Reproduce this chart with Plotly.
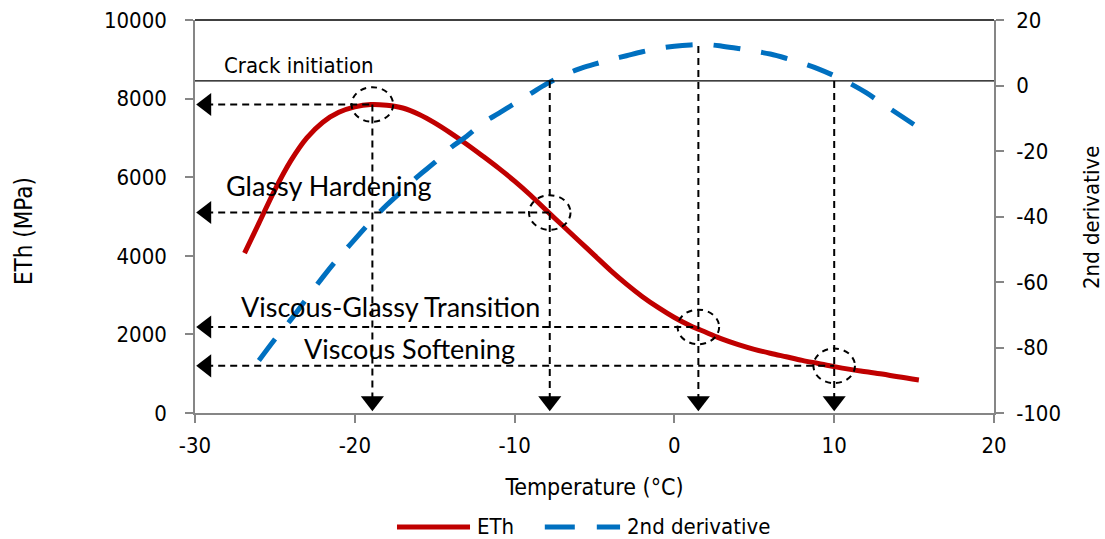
import plotly.graph_objects as go

# ---- data ----
temp_eth = [-26.9, -26, -25, -24, -23, -22, -21, -20, -19, -18, -17, -16, -15, -14, -13, -12, -11, -10,
            -9, -8, -7, -6, -5, -4, -3, -2, -1, 0, 1, 2, 3, 4, 5, 6, 7, 8, 9, 10, 11, 12, 13, 14, 15.3]
eth = [4070, 4830, 5680, 6420, 7000, 7400, 7650, 7790, 7850, 7830, 7760, 7600, 7380, 7120, 6840, 6540,
       6230, 5900, 5540, 5150, 4770, 4390, 4010, 3630, 3280, 2960, 2680, 2430, 2220, 2050, 1880, 1740,
       1620, 1520, 1430, 1340, 1260, 1180, 1110, 1050, 990, 920, 840]

temp_d2 = [-26, -25, -24, -23, -22, -21, -20, -19, -18, -17, -16, -15, -14, -13, -12, -11, -10, -9, -8,
           -7, -6, -5, -4, -3, -2, -1, 0, 1, 2, 3, 4, 5, 6, 7, 8, 9, 10, 11, 12, 13, 14, 15.2]
d2 = [-84, -77.5, -71.5, -65, -58.5, -52.5, -47, -41.5, -36.5, -32, -27.5, -23.5, -19, -15.5, -11.5, -8.5,
      -5.5, -2.5, 0.5, 3, 5, 6.5, 7.9, 9.1, 10.3, 11.3, 12, 12.4, 12.5, 12.0, 11.3, 10.5, 9.6, 8.3, 6.8,
      5.1, 3.0, 0.6, -2.2, -5.5, -8.7, -12.6]

key_temp = [-18.9, -7.8, 1.5, 10.0]
key_eth = [7850, 5100, 2190, 1200]
drop_top = [7850, 8450, 9340, 8450]
crack_level = 8450
arrow_left_x = -29.3
arrow_bottom_y = 300

label_text = ["Glassy Hardening", "Viscous-Glassy Transition", "Viscous Softening"]
label_x = [-21.6, -17.75, -16.6]
label_y = [5780, 2720, 1630]

x_ticks = [-30, -20, -10, 0, 10, 20]
x_tick_text = ["-30", "-20", "-10", "0", "10", "20"]
y_ticks = [0, 2000, 4000, 6000, 8000, 10000]
y_tick_text = ["0", "2000", "4000", "6000", "8000", "10000"]
y2_ticks = [-100, -80, -60, -40, -20, 0, 20]
y2_tick_text = ["-100", "-80", "-60", "-40", "-20", "0", "20"]

series_names = ["ETh", "2nd derivative"]
series_colors = ["#C00000", "#0070C0"]
series_dash = ["solid", "27px,21px"]

NARROW = "DejaVu Sans Condensed, Roboto, sans-serif"
CAL = "Lato, Carlito, Calibri, sans-serif"
AXC = "#868686"
FS = 22

fig = go.Figure()

fig.add_trace(go.Scatter(x=temp_eth, y=eth, name=series_names[0], mode="lines",
                         line=dict(color=series_colors[0], width=5, shape="spline")))
fig.add_trace(go.Scatter(x=temp_d2, y=d2, name=series_names[1], mode="lines", yaxis="y2",
                         line=dict(color=series_colors[1], width=5, shape="spline", dash=series_dash[1])))

shapes = []
dash = "7px,5px"
for t, e, top in zip(key_temp, key_eth, drop_top):
    shapes.append(dict(type="line", xref="x", yref="y", x0=arrow_left_x, x1=t, y0=e, y1=e,
                       line=dict(color="black", width=2, dash=dash)))
    shapes.append(dict(type="line", xref="x", yref="y", x0=t, x1=t, y0=top, y1=arrow_bottom_y,
                       line=dict(color="black", width=2, dash=dash)))
    shapes.append(dict(type="circle", xref="x", yref="y", x0=t - 1.3, x1=t + 1.3, y0=e - 440, y1=e + 440,
                       line=dict(color="black", width=2, dash="6px,5px")))

# crack initiation line and top frame line
shapes.append(dict(type="line", xref="paper", yref="y", x0=0, x1=1, y0=crack_level, y1=crack_level,
                   line=dict(color="black", width=1.4)))
shapes.append(dict(type="line", xref="paper", yref="paper", x0=0, x1=1, y0=1, y1=1,
                   line=dict(color="black", width=1.4)))

# legend (drawn manually to get the long Excel-style samples)
leg_y = -0.29
shapes.append(dict(type="line", xref="paper", yref="paper", x0=0.2528, x1=0.3442, y0=leg_y, y1=leg_y,
                   line=dict(color=series_colors[0], width=5)))
shapes.append(dict(type="line", xref="paper", yref="paper", x0=0.4378, x1=0.5320, y0=leg_y, y1=leg_y,
                   line=dict(color=series_colors[1], width=5, dash="30px,22px")))

# arrow heads
fig.add_trace(go.Scatter(x=[arrow_left_x] * 4, y=key_eth, mode="markers", showlegend=False, hoverinfo="skip",
                         marker=dict(symbol="triangle-left", size=20, color="black")))
fig.add_trace(go.Scatter(x=key_temp, y=[arrow_bottom_y] * 4, mode="markers", showlegend=False, hoverinfo="skip",
                         marker=dict(symbol="triangle-down", size=20, color="black")))

annotations = [dict(x=-23.5, y=8855, xref="x", yref="y", text="Crack initiation", showarrow=False,
                    font=dict(family=NARROW, size=FS, color="black"))]
for txt, lx, ly in zip(label_text, label_x, label_y):
    annotations.append(dict(x=lx, y=ly, xref="x", yref="y", text=txt, showarrow=False,
                            font=dict(family=CAL, size=27, color="black")))
# axis titles
annotations.append(dict(x=-0.214, y=0.463, xref="paper", yref="paper", text="ETh (MPa)", showarrow=False,
                        xanchor="center", yanchor="middle", textangle=-90,
                        font=dict(family=NARROW, size=24, color="black")))
annotations.append(dict(x=1.1214, y=0.4987, xref="paper", yref="paper", text="2nd derivative", showarrow=False,
                        xanchor="center", yanchor="middle", textangle=-90,
                        font=dict(family=NARROW, size=22, color="black")))
# legend texts
annotations.append(dict(x=0.3504, y=leg_y, xref="paper", yref="paper", text=series_names[0], showarrow=False,
                        xanchor="left", yanchor="middle", font=dict(family=NARROW, size=22, color="black")))
annotations.append(dict(x=0.5382, y=leg_y, xref="paper", yref="paper", text=series_names[1], showarrow=False,
                        xanchor="left", yanchor="middle", font=dict(family=NARROW, size=22, color="black")))

axis_common = dict(showgrid=False, zeroline=False, showline=True, linecolor=AXC, linewidth=1.5,
                   ticks="outside", ticklen=8, tickcolor=AXC, tickwidth=1.5, automargin=False,
                   ticklabeloverflow="allow",
                   tickfont=dict(family=NARROW, size=FS, color="black"))

fig.update_layout(
    width=1105, height=539,
    margin=dict(l=195, r=111, t=20, b=126),
    paper_bgcolor="white", plot_bgcolor="white",
    font=dict(family=NARROW, size=FS, color="black"),
    shapes=shapes, annotations=annotations,
    showlegend=False,
    xaxis=dict(range=[-30, 20], tickvals=x_ticks, ticktext=x_tick_text, ticklabelstandoff=4,
               title=dict(text="Temperature (°C)", standoff=22, font=dict(family=NARROW, size=23)),
               **axis_common),
    yaxis=dict(range=[0, 10000], tickvals=y_ticks, ticktext=y_tick_text, ticklabelstandoff=14,
               **axis_common),
    yaxis2=dict(range=[-100, 20], tickvals=y2_ticks, ticktext=y2_tick_text, overlaying="y", side="right",
                ticklabelstandoff=8, **axis_common),
)

# remove the default page margin so the 1105x539 figure fills the window exactly
fig.write_html("out.html", config={"displayModeBar": False},
               post_script="document.body.style.margin='0px';document.body.style.overflow='hidden';")
